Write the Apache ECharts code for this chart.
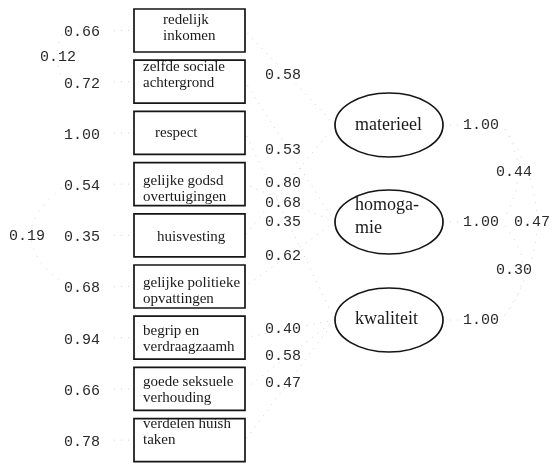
<!DOCTYPE html>
<html>
<head>
<meta charset="utf-8">
<script src="https://cdn.jsdelivr.net/npm/echarts@6/dist/echarts.min.js"></script>
<style>
html,body{margin:0;padding:0;background:#ffffff;}
#chart{width:552px;height:464px;}
</style>
</head>
<body>
<div id="chart"></div>
<script>
// ---------------- data ----------------
const indicators = ['redelijk\ninkomen', 'zelfde sociale\nachtergrond', 'respect', 'gelijke godsd\novertuigingen', 'huisvesting', 'gelijke politieke\nopvattingen', 'begrip en\nverdraagzaamh', 'goede seksuele\nverhouding', 'verdelen huish\ntaken'];
const errorVariances = ['0.66', '0.72', '1.00', '0.54', '0.35', '0.68', '0.94', '0.66', '0.78'];
const errorCovFrom = [0, 3];
const errorCovTo = [1, 5];
const errorCovValues = ['0.12', '0.19'];
const latents = ['materieel', 'homoga-\nmie', 'kwaliteit'];
const latentVariances = ['1.00', '1.00', '1.00'];
const loadingLatent = [0, 0, 1, 1, 1, 2, 2, 2, 2];
const loadingIndicator = [0, 4, 1, 3, 5, 2, 6, 7, 8];
const loadingValues = ['0.58', '0.80', '0.53', '0.68', '0.62', '0.35', '0.40', '0.58', '0.47'];
const latentCovFrom = [0, 0, 1];
const latentCovTo = [1, 2, 2];
const latentCovValues = ['0.44', '0.47', '0.30'];

// ---------------- layout (diagram units) ----------------
const BOX_X0 = 134, BOX_X1 = 245, BOX_TOP0 = 9, BOX_STEP = 51.2, BOX_H = 43;
const BOX_TEXT_X = [163, 143, 155, 143, 157, 143, 143, 143, 143];
const BOX_TEXT_DY = [19, 15, 22, 26, 23, 26, 23, 23, 13];
const LAT_CX = 389, LAT_RX = 54, LAT_RY = 32;
const LAT_CY = [125, 222, 320];
const LAT_TEXT_X = 355, LAT_TEXT_DY = [0, -5, -1];
const LOAD_LABEL_X = 265, LOAD_LABEL_PROBE = 283;
const LOAD_LABEL_DY = [5, -6, 9, 3, -3, 10, -1, -4, -6];
const ERR_LABEL_RIGHT = 100;
const ERRCOV_LABEL_RIGHT = [76, 45];
const ERRCOV_BULGE = [52, 0];
const LATVAR_X = 463;
const LATCOV_LABEL_X = [496, 514, 496];
const LATCOV_CTRL_X = [532, 570, 542];

const NUM_FONT = '"Liberation Mono", "DejaVu Sans Mono", monospace';
const SERIF = '"Liberation Serif", "DejaVu Serif", serif';
const FAINT = '#d4d4d4';

function boxTop(i) { return BOX_TOP0 + i * BOX_STEP; }
function boxMid(i) { return boxTop(i) + BOX_H / 2; }

function numText(api, x, y, text, align) {
  const p = api.coord([x, y]);
  return { type: 'text', style: { text: text, x: p[0], y: p[1], align: align, verticalAlign: 'middle',
    fontFamily: NUM_FONT, fontSize: 15, fill: '#2a2a2a' } };
}
function faintLine(api, a, b) {
  const p = api.coord(a), q = api.coord(b);
  return { type: 'line', shape: { x1: p[0], y1: p[1], x2: q[0], y2: q[1] },
    style: { stroke: FAINT, lineWidth: 1, lineDash: [1, 6] } };
}
function faintCurve(api, a, c, b) {
  const p = api.coord(a), k = api.coord(c), q = api.coord(b);
  return { type: 'bezierCurve', shape: { x1: p[0], y1: p[1], cpx1: k[0], cpy1: k[1], x2: q[0], y2: q[1] },
    style: { stroke: FAINT, lineWidth: 1, lineDash: [1, 7], fill: null } };
}

const chart = echarts.init(document.getElementById('chart'), null, { renderer: 'canvas' });

chart.setOption({
  animation: false,
  backgroundColor: '#ffffff',
  grid: { left: 0, right: 0, top: 0, bottom: 0 },
  xAxis: { type: 'value', min: 0, max: 552, show: false },
  yAxis: { type: 'value', min: 0, max: 464, inverse: true, show: false },
  series: [
    // loadings: latent -> indicator
    {
      type: 'custom', coordinateSystem: 'cartesian2d', z: 1,
      data: loadingValues.map((v, k) => [k]),
      renderItem: function (params, api) {
        const k = api.value(0);
        const li = loadingLatent[k], bi = loadingIndicator[k];
        const a = [LAT_CX - LAT_RX, LAT_CY[li]];
        const b = [BOX_X1, boxMid(bi)];
        const t = (LOAD_LABEL_PROBE - b[0]) / (a[0] - b[0]);
        const ly = b[1] + t * (a[1] - b[1]) + LOAD_LABEL_DY[k];
        return { type: 'group', children: [
          faintLine(api, a, b),
          numText(api, LOAD_LABEL_X, ly, loadingValues[k], 'left')
        ] };
      }
    },
    // error variances
    {
      type: 'custom', coordinateSystem: 'cartesian2d', z: 1,
      data: errorVariances.map((v, i) => [i]),
      renderItem: function (params, api) {
        const i = api.value(0);
        return { type: 'group', children: [
          faintLine(api, [ERR_LABEL_RIGHT + 14, boxMid(i)], [BOX_X0, boxMid(i)]),
          numText(api, ERR_LABEL_RIGHT, boxMid(i) + 2, errorVariances[i], 'right')
        ] };
      }
    },
    // error covariances
    {
      type: 'custom', coordinateSystem: 'cartesian2d', z: 1,
      data: errorCovValues.map((v, k) => [k]),
      renderItem: function (params, api) {
        const k = api.value(0);
        const y1 = boxMid(errorCovFrom[k]), y2 = boxMid(errorCovTo[k]);
        return { type: 'group', children: [
          faintCurve(api, [62, y1 + 4], [ERRCOV_BULGE[k], (y1 + y2) / 2], [62, y2 - 4]),
          numText(api, ERRCOV_LABEL_RIGHT[k], (y1 + y2) / 2 + 1, errorCovValues[k], 'right')
        ] };
      }
    },
    // latent covariances
    {
      type: 'custom', coordinateSystem: 'cartesian2d', z: 1,
      data: latentCovValues.map((v, k) => [k]),
      renderItem: function (params, api) {
        const k = api.value(0);
        const y1 = LAT_CY[latentCovFrom[k]], y2 = LAT_CY[latentCovTo[k]];
        return { type: 'group', children: [
          faintCurve(api, [505, y1 + 4], [LATCOV_CTRL_X[k], (y1 + y2) / 2], [503, y2 - 2]),
          numText(api, LATCOV_LABEL_X[k], (y1 + y2) / 2 + (k === 1 ? 0 : -1), latentCovValues[k], 'left')
        ] };
      }
    },
    // indicator boxes
    {
      type: 'custom', coordinateSystem: 'cartesian2d', z: 3,
      data: indicators.map((n, i) => [i]),
      renderItem: function (params, api) {
        const i = api.value(0);
        const p0 = api.coord([BOX_X0, boxTop(i)]);
        const p1 = api.coord([BOX_X1, boxTop(i) + BOX_H]);
        const tp = api.coord([BOX_TEXT_X[i], boxTop(i) + BOX_TEXT_DY[i]]);
        return { type: 'group', children: [
          { type: 'rect', shape: { x: p0[0], y: p0[1], width: p1[0] - p0[0], height: p1[1] - p0[1] },
            style: { fill: '#ffffff', stroke: '#151515', lineWidth: 1.7 } },
          { type: 'text', style: { text: indicators[i], x: tp[0], y: tp[1], align: 'left', verticalAlign: 'middle',
            fontFamily: SERIF, fontSize: 15, lineHeight: 16, fill: '#1a1a1a' } }
        ] };
      }
    },
    // latent ellipses
    {
      type: 'custom', coordinateSystem: 'cartesian2d', z: 3,
      data: latents.map((n, j) => [j]),
      renderItem: function (params, api) {
        const j = api.value(0);
        const c = api.coord([LAT_CX, LAT_CY[j]]);
        const e = api.coord([LAT_CX + LAT_RX, LAT_CY[j] + LAT_RY]);
        const tp = api.coord([LAT_TEXT_X, LAT_CY[j] + LAT_TEXT_DY[j]]);
        return { type: 'group', children: [
          faintLine(api, [LAT_CX + LAT_RX, LAT_CY[j]], [LATVAR_X - 2, LAT_CY[j]]),
          { type: 'ellipse', shape: { cx: c[0], cy: c[1], rx: e[0] - c[0], ry: e[1] - c[1] },
            style: { fill: '#ffffff', stroke: '#151515', lineWidth: 1.7 } },
          { type: 'text', style: { text: latents[j], x: tp[0], y: tp[1], align: 'left', verticalAlign: 'middle',
            fontFamily: SERIF, fontSize: 18, lineHeight: 23, fill: '#1a1a1a' } },
          numText(api, LATVAR_X, LAT_CY[j], latentVariances[j], 'left')
        ] };
      }
    }
  ]
});
</script>
</body>
</html>
